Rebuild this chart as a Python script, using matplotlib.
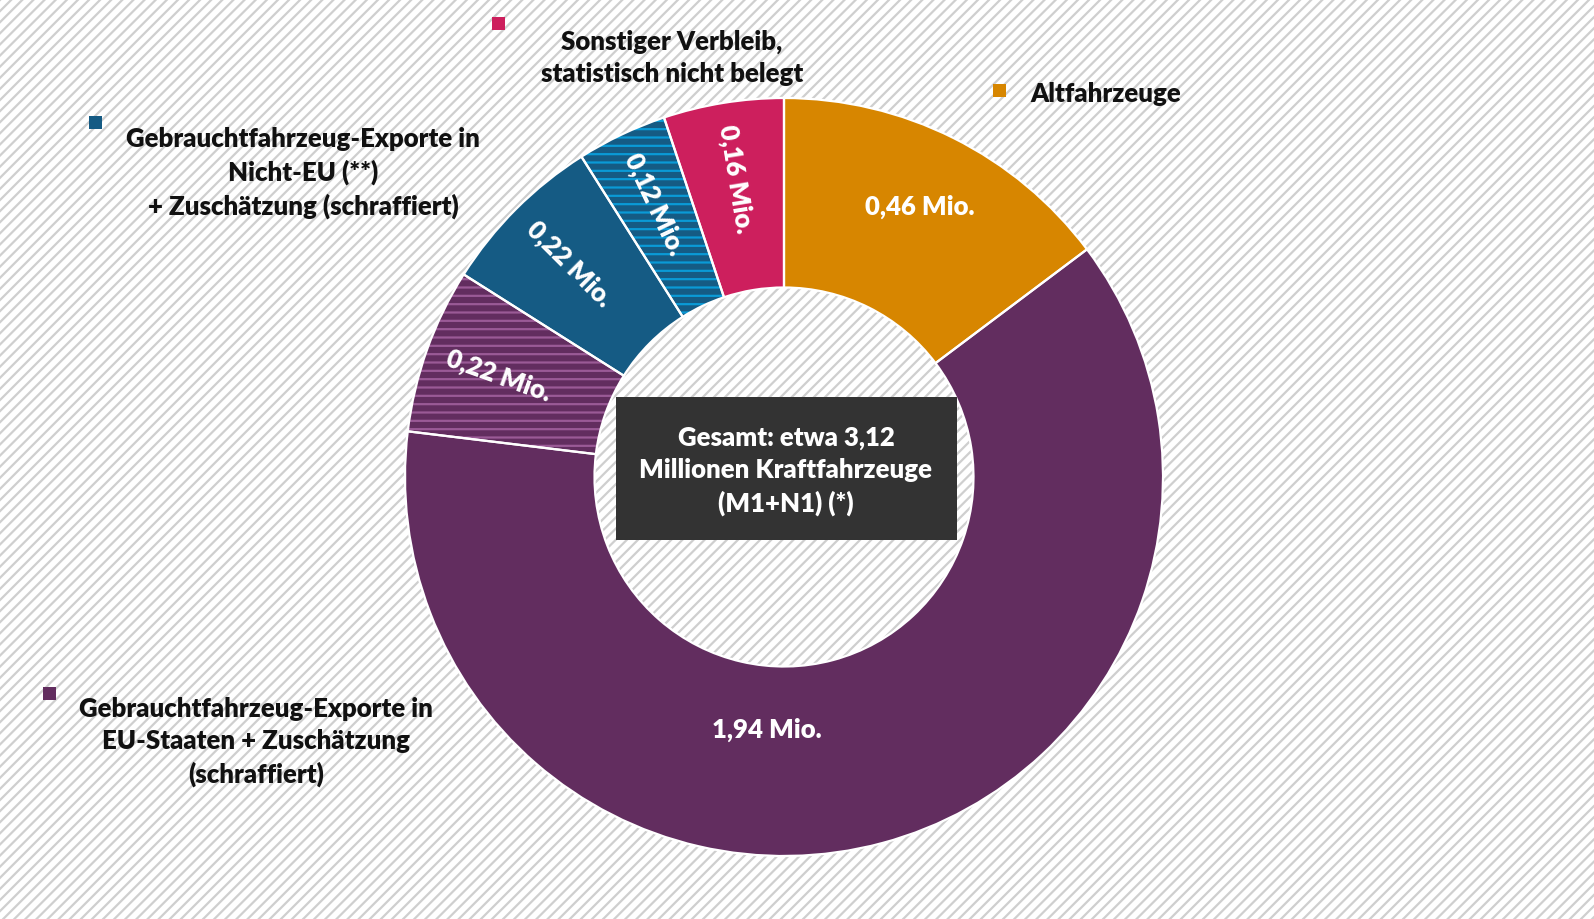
import matplotlib
matplotlib.use("Agg")
import matplotlib.pyplot as plt
import numpy as np
from matplotlib.patches import Rectangle

# ---- data ----
categories = ["Altfahrzeuge", "EU-Exporte", "EU-Zuschätzung", "Nicht-EU-Exporte",
              "Nicht-EU-Zuschätzung", "Sonstiger Verbleib"]
values = [0.46, 1.94, 0.22, 0.22, 0.12, 0.16]
value_labels = ["0,46 Mio.", "1,94 Mio.", "0,22 Mio.", "0,22 Mio.", "0,12 Mio.", "0,16 Mio."]
base_colors = ["#D78600", "#622D5F", "#622D5F", "#155B84", "#155B84", "#CD1F5D"]
hatch_colors = [None, None, "#9A5A96", None, "#0A9AD6", None]
center_text = "Gesamt: etwa 3,12\nMillionen Kraftfahrzeuge\n(M1+N1) (*)"
legend_texts = [
    ("Sonstiger Verbleib,\nstatistisch nicht belegt", "#CD1F5D"),
    ("Altfahrzeuge", "#D78600"),
    ("Gebrauchtfahrzeug-Exporte in\nNicht-EU (**)\n+ Zuschätzung (schraffiert)", "#155B84"),
    ("Gebrauchtfahrzeug-Exporte in\nEU-Staaten + Zuschätzung\n(schraffiert)", "#622D5F"),
]

W, H = 1594, 920
plt.rcParams['font.family'] = ['Lato', 'DejaVu Sans']
plt.rcParams['hatch.linewidth'] = 1.6
FW = "heavy"
FS = 18.5

fig = plt.figure(figsize=(W / 100, H / 100), dpi=100)
fig.patch.set_facecolor("white")
fig.patch.set_edgecolor("#CFCFCF")
fig.patch.set_hatch("///")
fig.patch.set_linewidth(0)

ax = fig.add_axes([0, 0, 1, 1])
ax.set_facecolor("none")

def py(y):
    return H - y

cx, cy = 784, py(478)
R = 379
ring = 0.5

wedges, _ = ax.pie(values, colors=base_colors, startangle=90, counterclock=False,
                   radius=R, center=(cx, cy), frame=True,
                   wedgeprops=dict(width=R * ring, linewidth=0, edgecolor="none"))
for w, hc in zip(wedges, hatch_colors):
    if hc:
        w.set_hatch("--")
        w.set_edgecolor(hc)
        w.set_linewidth(0)

# white separators
ax.pie(values, colors=["none"] * len(values), startangle=90, counterclock=False,
       radius=R, center=(cx, cy), frame=True,
       wedgeprops=dict(width=R * ring, linewidth=1.6, edgecolor="white", fill=False))
ax.set_xlim(0, W)
ax.set_ylim(0, H)
ax.set_aspect("equal")
ax.axis("off")

# slice labels
total = sum(values)
cum = 0
for i, (v, lab) in enumerate(zip(values, value_labels)):
    mid = 90 - (cum + v / 2) / total * 360
    cum += v
    ang = np.deg2rad(mid)
    r = 0.80 * R
    rot = mid - 180
    if i == 0:
        rot = 0
    elif i == 1:
        ang = np.deg2rad(-94)
        r = 0.665 * R
        rot = 0
    x, y = cx + r * np.cos(ang), cy + r * np.sin(ang)
    ax.text(x, y, lab, color="white", fontsize=FS, fontweight=FW,
            ha="center", va="center", rotation=rot, rotation_mode="anchor")

# center box
ax.add_patch(Rectangle((616, py(541)), 957 - 616, 541 - 398, facecolor="#333333",
                       edgecolor="none", zorder=5))
ax.text(786, py(471), center_text, color="white", fontsize=FS, fontweight=FW,
        ha="center", va="center", linespacing=1.42, zorder=6)

# legend-like annotations
sq = 13
positions = [
    ((499, 24), (672, 58), "center"),
    ((1000, 91.5), (1030, 93.5), "left"),
    ((95.6, 123), (303, 173), "center"),
    ((49.8, 694), (256, 742), "center"),
]
for (txt, col), ((sx, sy), (tx, ty), ha) in zip(legend_texts, positions):
    ax.add_patch(Rectangle((sx - sq / 2, py(sy) - sq / 2), sq, sq, facecolor=col,
                           edgecolor="none"))
    ax.text(tx, py(ty), txt, color="#111111", fontsize=FS, fontweight=FW,
            ha=ha, va="center", multialignment="center", linespacing=1.42)

fig.savefig("out.png", dpi=100, facecolor=fig.get_facecolor(), edgecolor=fig.get_edgecolor())
